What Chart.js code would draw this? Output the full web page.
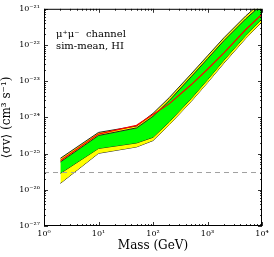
<!DOCTYPE html>
<html>
<head>
<meta charset="utf-8">
<script src="https://cdn.jsdelivr.net/npm/chart.js@4"></script>
<style>
  body { margin: 0; background: #fff; }
</style>
</head>
<body>
<canvas id="chart" width="274" height="257"></canvas>
<script>
// masses (GeV) and limits on <sigma v> (cm^3 s^-1)
const masses = [2, 10, 50, 100, 200, 500, 1000, 2000, 5000, 10000];
const observed = [6.46e-26, 3.47e-25, 6.03e-25, 1.20e-24, 2.40e-24, 7.94e-24, 2.14e-23, 6.03e-23, 2.63e-22, 7.08e-22];
const sigma1Upper = [5.89e-26, 3.16e-25, 5.13e-25, 1.07e-24, 2.95e-24, 1.32e-23, 4.17e-23, 1.32e-22, 5.25e-22, 1.32e-21];
const sigma1Lower = [2.85e-26, 1.39e-25, 1.97e-25, 2.82e-25, 7.59e-25, 3.31e-24, 1.10e-23, 3.80e-23, 1.82e-22, 5.25e-22];
const sigma2Upper = [7.41e-26, 3.84e-25, 5.79e-25, 1.29e-24, 3.55e-24, 1.58e-23, 5.01e-23, 1.58e-22, 6.31e-22, 1.58e-21];
const sigma2Lower = [1.51e-26, 1.02e-25, 1.53e-25, 2.29e-25, 6.31e-25, 2.75e-24, 9.12e-24, 3.16e-23, 1.51e-22, 4.37e-22];
const thermalRelic = 3e-26;

const xTickExps = [0, 1, 2, 3, 4];
const yTickExps = [-27, -26, -25, -24, -23, -22, -21];
const labelLines = ['μ⁺μ⁻  channel', 'sim-mean, HI'];

const SERIF = '"DejaVu Serif", "Liberation Serif", serif';
const sup = { '-': '⁻', '0': '⁰', '1': '¹', '2': '²', '3': '³', '4': '⁴', '5': '⁵', '6': '⁶', '7': '⁷', '8': '⁸', '9': '⁹' };
const powLabel = v => '10' + String(Math.round(Math.log10(v))).split('').map(c => sup[c]).join('');
const toPoints = ys => masses.map((m, i) => ({ x: m, y: ys[i] }));

// frame plus matplotlib-style inward ticks on all four sides
const frameTicks = {
  id: 'frameTicks',
  afterDatasetsDraw(chart) {
    const { ctx, chartArea: a, scales: { x, y } } = chart;
    ctx.save();
    ctx.strokeStyle = '#000';
    ctx.lineWidth = 1;
    ctx.strokeRect(a.left + 0.5, a.top + 0.5, a.right - a.left - 1, a.bottom - a.top - 1);
    ctx.lineWidth = 0.8;
    const marks = (exps, cb) => {
      exps.forEach((e, i) => {
        cb(Number('1e' + e), 4);
        if (i < exps.length - 1) {
          for (let k = 2; k < 10; k++) cb(k * Number('1e' + e), 2);
        }
      });
    };
    ctx.beginPath();
    marks(xTickExps, (v, len) => {
      const px = Math.round(x.getPixelForValue(v)) + 0.5;
      ctx.moveTo(px, a.bottom); ctx.lineTo(px, a.bottom - len);
      ctx.moveTo(px, a.top); ctx.lineTo(px, a.top + len);
    });
    marks(yTickExps, (v, len) => {
      const py = Math.round(y.getPixelForValue(v)) + 0.5;
      ctx.moveTo(a.left, py); ctx.lineTo(a.left + len, py);
      ctx.moveTo(a.right, py); ctx.lineTo(a.right - len, py);
    });
    ctx.stroke();

    ctx.fillStyle = '#000';
    ctx.font = '10px ' + SERIF;
    ctx.textBaseline = 'alphabetic';
    labelLines.forEach((t, i) => ctx.fillText(t, a.left + 12, a.top + 28 + i * 12));
    ctx.restore();
  }
};

const ctx = document.getElementById('chart').getContext('2d');
new Chart(ctx, {
  type: 'line',
  data: {
    datasets: [
      { data: toPoints(observed), borderColor: '#ff0000', borderWidth: 1.2, pointRadius: 0, fill: false, order: 0 },
      {
        data: [{ x: 1, y: thermalRelic }, { x: 1e4, y: thermalRelic }],
        borderColor: '#a0a0a0', borderWidth: 1, borderDash: [5, 4], pointRadius: 0, fill: false, order: 1
      },
      { data: toPoints(sigma1Upper), borderColor: '#222', borderWidth: 1, pointRadius: 0, fill: { target: 3 }, backgroundColor: '#00ff00', order: 2 },
      { data: toPoints(sigma1Lower), borderColor: '#222', borderWidth: 1, pointRadius: 0, fill: false, order: 2 },
      { data: toPoints(sigma2Upper), borderColor: '#222', borderWidth: 1, pointRadius: 0, fill: { target: 5 }, backgroundColor: '#ffff00', order: 3 },
      { data: toPoints(sigma2Lower), borderColor: '#222', borderWidth: 1, pointRadius: 0, fill: false, order: 3 }
    ]
  },
  options: {
    responsive: false,
    animation: false,
    layout: { padding: { top: 8, right: 12, left: 0, bottom: 0 } },
    plugins: { legend: { display: false }, tooltip: { enabled: false } },
    scales: {
      x: {
        type: 'logarithmic',
        min: 1,
        max: 1e4,
        afterBuildTicks: s => { s.ticks = xTickExps.map(e => ({ value: Number('1e' + e) })); },
        afterFit: s => { s.height = 31; },
        grid: { display: false, drawTicks: false, tickLength: 0 },
        border: { display: false },
        ticks: { callback: v => powLabel(v), font: { family: SERIF, size: 8 }, color: '#000', padding: 3, maxRotation: 0 },
        title: { display: true, text: 'Mass (GeV)', font: { family: SERIF, size: 12 }, color: '#000', padding: { top: 0, bottom: 4 } }
      },
      y: {
        type: 'logarithmic',
        min: 1e-27,
        max: 1e-21,
        afterBuildTicks: s => { s.ticks = yTickExps.map(e => ({ value: Number('1e' + e) })); },
        afterFit: s => { s.width = 44; },
        grid: { display: false, drawTicks: false, tickLength: 0 },
        border: { display: false },
        ticks: { callback: v => powLabel(v), font: { family: SERIF, size: 8 }, color: '#000', padding: 4 },
        title: { display: true, text: '⟨σv⟩ (cm³ s⁻¹)', font: { family: SERIF, size: 12 }, color: '#000', padding: { top: 0, bottom: 2 } }
      }
    }
  },
  plugins: [frameTicks]
});
</script>
</body>
</html>
